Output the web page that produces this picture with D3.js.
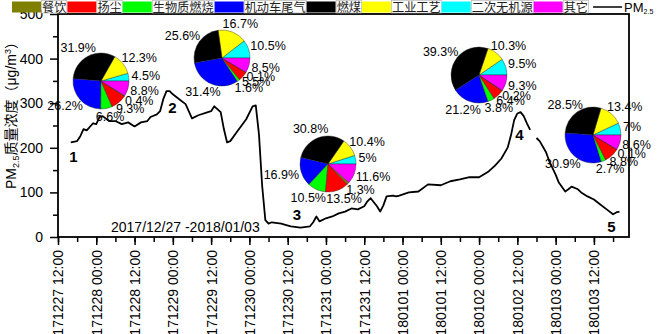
<!DOCTYPE html>
<html>
<head>
<meta charset="utf-8">
<script src="https://cdn.jsdelivr.net/npm/d3@7"></script>
<style>
  body { margin: 0; background: #fff; }
  svg { display: block; font-family: "Liberation Sans", Arial, sans-serif; }
</style>
</head>
<body>
<div class="canvas"></div>
<script>
// hours after 2017-12-27 12:00, and PM2.5 (ug/m3)
const hours = [4,6,7,8,9,11,12,13,14,16,18,20,22,24,26,28,29,31,32,33,34,35,36,38,40,42,44,47,48,49,51,52,53,54,56,59,61,62,63,64,65,66,67,70,71,73,76,79,80,81,82,84,86,88,90,92,94,96,97,98,100,101,102,103,105,106,107,110,113,116,120,123,126,129,132,135,137,139,141,142,143,144,145,146,147,148,149,150,151,153,154,156,157,159,160,161,163,164,166,168,170,172,174,175,176];
const pm25 = [212,215,226,242,239,255,253,269,271,260,260,253,257,248,257,260,269,275,282,309,327,327,320,309,298,266,273,280,282,293,280,242,212,215,235,264,293,295,230,115,38,30,33,30,28,24,21,24,33,46,35,42,46,53,57,64,62,69,80,87,69,57,71,91,93,91,93,100,102,118,116,125,129,134,134,147,160,176,201,228,262,277,280,271,255,240,null,222,215,190,170,140,122,102,107,113,107,100,91,84,73,62,51,55,57];

const sources = ["餐饮", "扬尘", "生物质燃烧", "机动车尾气", "燃煤", "工业工艺", "二次无机源", "其它"];
const sourceColors = ["#808000", "#ff0000", "#00ff00", "#0000ff", "#000000", "#ffff00", "#00ffff", "#ff00ff"];
// shares (%) per episode, same order as sources
const share1 = [0.4, 9.3, 6.6, 26.2, 31.9, 12.3, 4.5, 8.8];
const share2 = [0.1, 5.5, 1.6, 31.4, 25.6, 16.7, 10.5, 8.5];
const share3 = [1.3, 13.5, 10.5, 16.9, 30.8, 10.4, 5, 11.6];
const share4 = [0.2, 6.4, 3.8, 21.2, 39.3, 10.3, 9.5, 9.3];
const share5 = [0.1, 8.8, 2.7, 30.9, 28.5, 13.4, 7, 8.6];
const episodes = ["1", "2", "3", "4", "5"];
const yTicks = [0, 100, 200, 300, 400, 500];

const W = 661, H = 334;
const svg = d3.select(".canvas").append("svg").attr("width", W).attr("height", H);

const start = new Date(2017, 11, 27, 12);
const end = new Date(2018, 0, 3, 23);
const x = d3.scaleTime().domain([start, end]).range([58, 629]);
const y = d3.scaleLinear().domain([0, 500]).range([237, 14]);

// axes
const majorX = d3.timeHour.every(12).range(start, d3.timeHour.offset(end, 1));
const minorX = d3.timeHour.every(6).range(start, d3.timeHour.offset(end, 1));
const fmt = d3.timeFormat("%y%m%d %H:%M");

svg.append("g")
  .attr("transform", "translate(0,237)")
  .call(d3.axisBottom(x).tickValues(minorX).tickSize(5).tickSizeOuter(0).tickFormat(""))
  .call((g) => g.select(".domain").remove());

const xAxis = svg.append("g")
  .attr("transform", "translate(0,237)")
  .call(d3.axisBottom(x).tickValues(majorX).tickSize(8).tickSizeOuter(0).tickFormat(fmt));
xAxis.select(".domain").remove();
xAxis.selectAll("text")
  .attr("transform", "rotate(-90)")
  .attr("x", -13)
  .attr("y", 0)
  .attr("dy", "0.35em")
  .attr("text-anchor", "end")
  .attr("font-size", 14)
  .attr("font-family", "Liberation Sans, Arial, sans-serif")
  .attr("fill", "#000");

svg.append("g")
  .attr("transform", "translate(58,0)")
  .call(d3.axisLeft(y).tickValues([50, 150, 250, 350, 450]).tickSize(5).tickSizeOuter(0).tickFormat(""))
  .call((g) => g.select(".domain").remove());

const yAxis = svg.append("g")
  .attr("transform", "translate(58,0)")
  .call(d3.axisLeft(y).tickValues(yTicks).tickSize(8).tickPadding(7).tickSizeOuter(0));
yAxis.select(".domain").remove();
yAxis.selectAll("text")
  .attr("font-size", 14)
  .attr("font-family", "Liberation Sans, Arial, sans-serif")
  .attr("fill", "#000");

svg.selectAll(".tick line").attr("stroke", "#000").attr("stroke-width", 1.5);

// frame
svg.append("rect")
  .attr("x", 58).attr("y", 14)
  .attr("width", 629 - 58).attr("height", 237 - 14)
  .attr("fill", "none")
  .attr("stroke", "#000")
  .attr("stroke-width", 1.8);

// PM2.5 line
const series = hours.map((h, i) => ({ t: d3.timeHour.offset(start, h), v: pm25[i] }));
const line = d3.line()
  .defined((d) => d.v !== null)
  .x((d) => x(d.t))
  .y((d) => y(d.v));
svg.append("path")
  .datum(series)
  .attr("d", line)
  .attr("fill", "none")
  .attr("stroke", "#000")
  .attr("stroke-width", 1.8)
  .attr("stroke-linejoin", "round");

// episode numbers
const episodePos = [[73.5, 162], [172.5, 113], [297, 220], [519.5, 140], [611.5, 232]];
episodes.forEach((e, i) => {
  svg.append("text")
    .attr("x", episodePos[i][0]).attr("y", episodePos[i][1])
    .attr("text-anchor", "middle")
    .attr("font-size", 15)
    .attr("font-weight", "bold")
    .text(e);
});

svg.append("text")
  .attr("x", 111).attr("y", 232)
  .attr("font-size", 14)
  .text("2017/12/27 -2018/01/03");

// pies: counter-clockwise from 3 o'clock
const pieOrder = [6, 5, 4, 3, 2, 1, 0, 7];
const pie = d3.pie().sort(null).value((d) => d.v)
  .startAngle(Math.PI / 2).endAngle(Math.PI / 2 - 2 * Math.PI);
const r = 28;
const arc = d3.arc().innerRadius(0).outerRadius(r);
const pieCenters = [[101, 81], [222, 58], [328, 164], [479, 75], [593, 135]];
[share1, share2, share3, share4, share5].forEach((shares, k) => {
  const slices = pie(pieOrder.map((i) => ({ v: shares[i], c: sourceColors[i] })));
  const g = svg.append("g").attr("transform", `translate(${pieCenters[k][0]},${pieCenters[k][1]})`);
  g.selectAll("path")
    .data(slices)
    .enter()
    .append("path")
    .attr("d", arc)
    .attr("fill", (d) => d.data.c)
    .attr("stroke", "#222")
    .attr("stroke-width", 0.4);
  slices.forEach((d) => {
    const a = (d.startAngle + d.endAngle) / 2;
    const dx = Math.sin(a), dy = -Math.cos(a);
    const t = g.append("text")
      .attr("font-size", 12.5)
      .attr("text-anchor", "middle")
      .attr("dominant-baseline", "central")
      .text(d.data.v + "%");
    const w = t.node().getComputedTextLength();
    t.attr("x", dx * (r + 3) + dx * w / 2)
      .attr("y", dy * (r + 3) + dy * 6);
  });
});

// legend
const legend = svg.append("g");
let lx = 12;
sources.forEach((s, i) => {
  legend.append("rect")
    .attr("x", lx).attr("y", 1.5).attr("width", 29).attr("height", 11)
    .attr("fill", sourceColors[i]);
  const bg = legend.append("rect");
  const t = legend.append("text")
    .attr("x", lx + 30).attr("y", 11.5)
    .attr("font-size", 12.2)
    .attr("font-family", "Noto Sans CJK SC, sans-serif")
    .attr("fill", "#222")
    .text(s);
  const w = t.node().getComputedTextLength();
  bg.attr("x", lx + 29.5).attr("y", 0.5).attr("width", w + 1).attr("height", 12.5)
    .attr("fill", "#fff").attr("stroke", "#aaa").attr("stroke-width", 0.6);
  lx += 30 + w + 1;
});
legend.append("line")
  .attr("x1", lx + 4).attr("x2", lx + 33).attr("y1", 7).attr("y2", 7)
  .attr("stroke", "#000").attr("stroke-width", 1.5);
const lt = legend.append("text").attr("x", lx + 35).attr("y", 12).attr("font-size", 13);
lt.append("tspan").text("PM");
lt.append("tspan").attr("font-size", 7).attr("dy", 2).text("2.5");

// y title
const yt = svg.append("text")
  .attr("transform", "translate(16,112) rotate(-90)")
  .attr("text-anchor", "middle")
  .attr("font-size", 14);
yt.append("tspan").text("PM");
yt.append("tspan").attr("font-size", 9).attr("dy", 3).text("2.5");
yt.append("tspan").attr("dy", -3).attr("font-family", "Noto Sans CJK SC, sans-serif").text("质量浓度（");
yt.append("tspan").text("μg/m");
yt.append("tspan").attr("font-size", 9).attr("dy", -5).text("3");
yt.append("tspan").attr("dy", 5).attr("font-family", "Noto Sans CJK SC, sans-serif").text("）");
</script>
</body>
</html>
